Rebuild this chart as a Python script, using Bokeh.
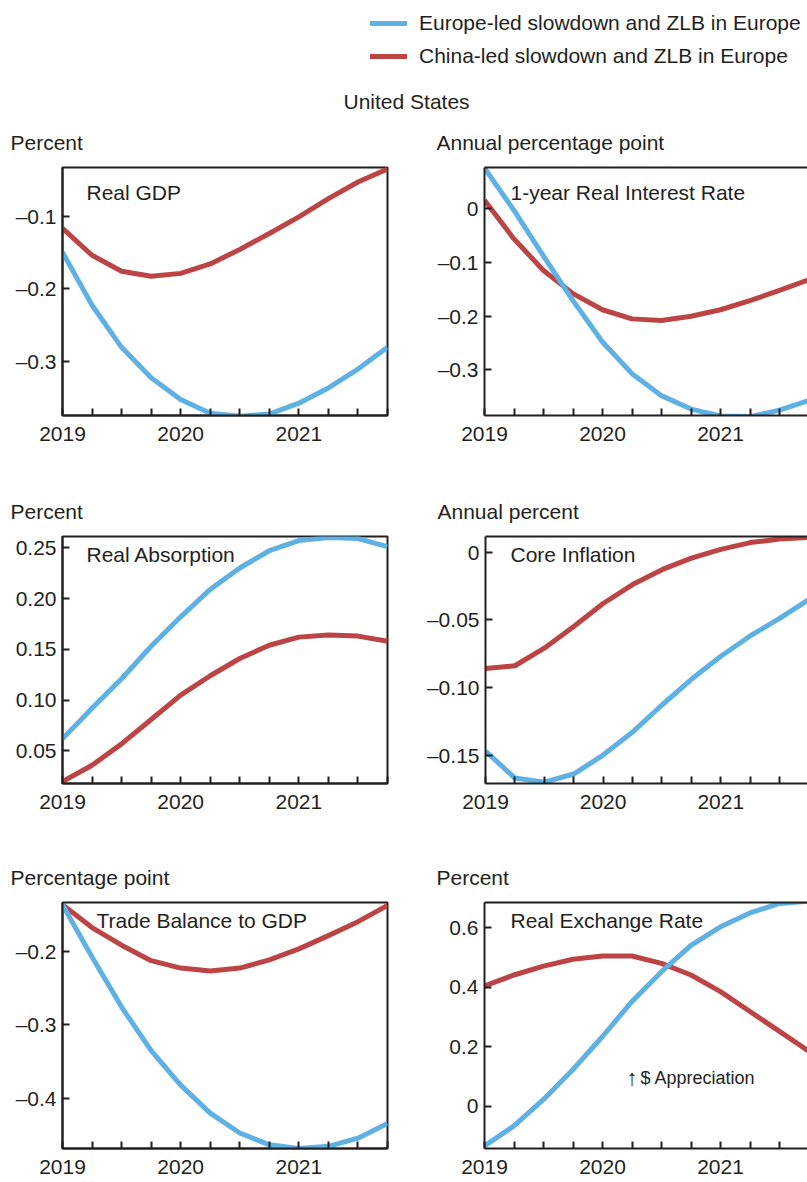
from bokeh.plotting import figure
from bokeh.layouts import column, row
from bokeh.models import Range1d, FixedTicker, Label, Legend, LegendItem, LinearAxis, Title
from bokeh.embed import file_html
from bokeh.resources import INLINE

# ---------------- data (2019Q1 .. 2021Q4) ----------------
quarters = list(range(12))
year_ticks = [0, 4, 8]
year_labels = ["2019", "2020", "2021"]

series_names = ["Europe-led slowdown and ZLB in Europe", "China-led slowdown and ZLB in Europe"]

gdp_europe = [-0.150, -0.223, -0.281, -0.323, -0.353, -0.372, -0.376, -0.373, -0.358, -0.337, -0.311, -0.281]
gdp_china = [-0.117, -0.154, -0.176, -0.183, -0.179, -0.166, -0.146, -0.124, -0.101, -0.076, -0.053, -0.035]

rate_europe = [0.076, -0.003, -0.088, -0.171, -0.248, -0.307, -0.348, -0.373, -0.386, -0.387, -0.375, -0.357]
rate_china = [0.016, -0.056, -0.115, -0.158, -0.188, -0.205, -0.208, -0.200, -0.188, -0.171, -0.152, -0.132]

abs_europe = [0.062, 0.092, 0.121, 0.153, 0.182, 0.209, 0.230, 0.247, 0.257, 0.260, 0.259, 0.251]
abs_china = [0.020, 0.036, 0.057, 0.081, 0.105, 0.124, 0.141, 0.154, 0.162, 0.164, 0.163, 0.158]

infl_europe = [-0.147, -0.167, -0.170, -0.164, -0.150, -0.133, -0.113, -0.094, -0.077, -0.062, -0.049, -0.035]
infl_china = [-0.086, -0.084, -0.071, -0.055, -0.038, -0.024, -0.013, -0.0045, 0.002, 0.007, 0.0096, 0.0108]

tb_europe = [-0.137, -0.208, -0.276, -0.335, -0.382, -0.420, -0.447, -0.463, -0.468, -0.465, -0.454, -0.434]
tb_china = [-0.137, -0.168, -0.192, -0.213, -0.223, -0.227, -0.223, -0.212, -0.197, -0.179, -0.160, -0.138]

rer_europe = [-0.134, -0.067, 0.022, 0.123, 0.234, 0.352, 0.452, 0.541, 0.603, 0.650, 0.682, 0.690]
rer_china = [0.404, 0.441, 0.471, 0.494, 0.505, 0.505, 0.480, 0.441, 0.385, 0.318, 0.251, 0.184]

gdp_ticks = [-0.3, -0.2, -0.1]
gdp_tick_labels = ["\u20130.3", "\u20130.2", "\u20130.1"]
rate_ticks = [-0.3, -0.2, -0.1, 0.0]
rate_tick_labels = ["\u20130.3", "\u20130.2", "\u20130.1", "0"]
abs_ticks = [0.05, 0.10, 0.15, 0.20, 0.25]
abs_tick_labels = ["0.05", "0.10", "0.15", "0.20", "0.25"]
infl_ticks = [-0.15, -0.10, -0.05, 0.0]
infl_tick_labels = ["\u20130.15", "\u20130.10", "\u20130.05", "0"]
tb_ticks = [-0.4, -0.3, -0.2]
tb_tick_labels = ["\u20130.4", "\u20130.3", "\u20130.2"]
rer_ticks = [0.0, 0.2, 0.4, 0.6]
rer_tick_labels = ["0", "0.2", "0.4", "0.6"]

# ---------------- style ----------------
FONT = "Liberation Sans"
TXT = "#231f20"
BLUE = "#5fb0e3"
RED = "#bd4444"
FS = "21px"

HDR_H = 112
# (figure height, border top, frame height) for each row
ROWS = [(369, 55, 248), (366, 55, 247), (335, 55, 246)]


def panel(side, row_i, title, unit, yr, yticks, ylabels, eu, cn, title_x, title_y, extras=()):
    h, bt, fh = ROWS[row_i]
    bb = h - bt - fh
    if side == "L":
        w, bl, br = 423, 62, 36
        xr = Range1d(0, 11)
    else:
        w, bl, br = 384, 61, 0
        xr = Range1d(0, (w - bl - br) / 29.5)
    p = figure(width=w, height=h, x_range=xr, y_range=Range1d(*yr),
               toolbar_location=None, output_backend="svg",
               min_border_left=bl, min_border_right=br,
               min_border_top=bt, min_border_bottom=bb,
               background_fill_color="white", border_fill_color="white")
    p.grid.visible = False
    xb = p.below[0]
    yl = p.left[0]
    if side == "L":
        p.outline_line_color = TXT
        p.outline_line_width = 2
        p.outline_line_alpha = 1
    else:
        p.outline_line_color = None
        top = LinearAxis(ticker=FixedTicker(ticks=[]), axis_line_width=2, axis_line_color=TXT,
                         major_tick_in=0, major_tick_out=0, minor_tick_in=0, minor_tick_out=0,
                         major_label_standoff=0,
                         major_tick_line_color=None, minor_tick_line_color=None)
        p.add_layout(top, "above")

    for ax in (xb, yl):
        ax.axis_line_width = 2
        ax.axis_line_color = TXT
        ax.major_tick_in = 7
        ax.major_tick_out = 0
        ax.minor_tick_in = 0
        ax.minor_tick_out = 0
        ax.major_tick_line_width = 2
        ax.major_tick_line_color = TXT
        ax.minor_tick_line_color = None
        ax.major_label_text_font = FONT
        ax.major_label_text_font_size = FS
        ax.major_label_text_color = TXT

    yl.ticker = FixedTicker(ticks=yticks)
    yl.major_label_overrides = dict(zip(yticks, ylabels))
    yl.major_label_standoff = 6

    xb.ticker = FixedTicker(ticks=quarters)
    xb.major_label_overrides = {q: "" for q in quarters} | dict(zip(year_ticks, year_labels))
    xb.major_label_standoff = 11

    p.line(quarters, cn, color=RED, line_width=5, line_join="round")
    p.line(quarters, eu, color=BLUE, line_width=5, line_join="round")

    ux = -52 if side == "L" else -48
    p.add_layout(Title(text=unit, align="left", offset=ux, vertical_align="bottom", standoff=28,
                       text_font=FONT, text_font_size=FS, text_font_style="normal",
                       text_color=TXT), "above")
    p.add_layout(Label(x=title_x, y=title_y, x_units="screen", y_units="screen", text=title,
                       text_baseline="alphabetic", text_font=FONT, text_font_size=FS,
                       text_color=TXT))
    for e in extras:
        p.add_layout(e)
    return p


# ---------------- header with legend ----------------
hdr = figure(width=807, height=HDR_H, x_range=Range1d(0, 1), y_range=Range1d(0, 1),
             x_axis_type=None, y_axis_type=None, toolbar_location=None,
             output_backend="svg", min_border_left=0, min_border_top=0,
             min_border_right=0, min_border_bottom=0)
hdr.outline_line_color = None
hdr.grid.visible = False
r_eu = hdr.line(x=[-10, -9], y=[-10, -10], color=BLUE, line_width=5, line_cap="round")
r_cn = hdr.line(x=[-10, -9], y=[-10, -10], color=RED, line_width=5, line_cap="round")
legend = Legend(items=[LegendItem(label=series_names[0], renderers=[r_eu]),
                       LegendItem(label=series_names[1], renderers=[r_cn])],
                location=(370, 19.5), orientation="vertical", margin=0, padding=0,
                spacing=9, glyph_width=37, glyph_height=20, label_standoff=12,
                label_text_font=FONT, label_text_font_size=FS, label_text_color=TXT,
                border_line_color=None, background_fill_color=None)
hdr.add_layout(legend)
hdr.add_layout(Title(text="United States", align="left", offset=343, vertical_align="bottom",
                     standoff=0, text_font=FONT, text_font_size=FS, text_font_style="normal",
                     text_color=TXT), "below")

# ---------------- panels ----------------
p1 = panel("L", 0, "Real GDP", "Percent", (-0.375, -0.033), gdp_ticks, gdp_tick_labels,
           gdp_europe, gdp_china, 24, 223)
p2 = panel("R", 0, "1-year Real Interest Rate", "Annual percentage point", (-0.385, 0.077),
           rate_ticks, rate_tick_labels, rate_europe, rate_china, 26, 223)
p3 = panel("L", 1, "Real Absorption", "Percent", (0.018, 0.261), abs_ticks, abs_tick_labels,
           abs_europe, abs_china, 24, 229)
p4 = panel("R", 1, "Core Inflation", "Annual percent", (-0.171, 0.0115), infl_ticks,
           infl_tick_labels, infl_europe, infl_china, 25, 229)
p5 = panel("L", 2, "Trade Balance to GDP", "Percentage point", (-0.468, -0.134), tb_ticks,
           tb_tick_labels, tb_europe, tb_china, 34, 228)
arrow = Label(x=142, y=71, x_units="screen", y_units="screen", text="\u2191",
              text_baseline="alphabetic", text_font=FONT, text_font_size="22px", text_color=TXT)
appr = Label(x=156, y=71, x_units="screen", y_units="screen", text="$ Appreciation",
             text_baseline="alphabetic", text_font=FONT, text_font_size="18px", text_color=TXT)
p6 = panel("R", 2, "Real Exchange Rate", "Percent", (-0.143, 0.685), rer_ticks,
           rer_tick_labels, rer_europe, rer_china, 26, 228, extras=(arrow, appr))

layout = column(hdr, row(p1, p2), row(p3, p4), row(p5, p6))

open("out.html", "w").write(file_html(layout, INLINE))
